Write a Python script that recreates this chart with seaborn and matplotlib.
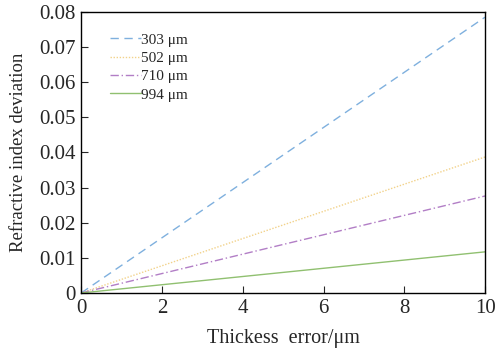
import pandas as pd
import numpy as np
import matplotlib.pyplot as plt
import seaborn as sns

# thickness error (um) and refractive index deviation at the ends of each line
thick_err = [0, 10]
labels = ["303 \u03bcm", "502 \u03bcm", "710 \u03bcm", "994 \u03bcm"]
dev_303 = [0, 0.0785]
dev_502 = [0, 0.0387]
dev_710 = [0, 0.0276]
dev_994 = [0, 0.0117]

colors = ["#7fb0de", "#f2d28a", "#b27ec6", "#90c070"]
styles = [(0, (6, 4)), (0, (1, 1.2)), (0, (6, 2, 1, 2)), "-"]

sns.set_style("ticks")
plt.rcParams['font.family'] = ['Liberation Serif', 'DejaVu Serif']

fig = plt.figure(figsize=(4.98, 3.5), dpi=100)
ax = fig.add_axes([0.163, 0.163, 0.811, 0.803])

for lab, vals, c, ls in zip(labels, [dev_303, dev_502, dev_710, dev_994], colors, styles):
    df = pd.DataFrame({"x": thick_err, "y": vals})
    sns.lineplot(data=df, x="x", y="y", ax=ax, color=c, linewidth=1.0,
                 linestyle=ls, label=lab)

ax.set_xlim(0, 10)
ax.set_ylim(0, 0.08)
ax.set_xticks([0, 2, 4, 6, 8, 10])
ax.set_yticks(np.arange(0, 0.081, 0.01))
ax.set_yticklabels(["0", "0.01", "0.02", "0.03", "0.04", "0.05", "0.06", "0.07", "0.08"])
ax.tick_params(direction="in", labelsize=15, length=5, width=0.8, pad=4,
               top=False, right=False)
for s in ax.spines.values():
    s.set_linewidth(1.0)
    s.set_color("black")

ax.set_xlabel("Thickess  error/\u03bcm", fontsize=14.5, labelpad=8)
ax.set_ylabel("Refractive index deviation", fontsize=13.5, labelpad=9)

ax.legend(loc="upper left", bbox_to_anchor=(0.072, 0.925), frameon=False, fontsize=11,
          handlelength=2.0, handletextpad=0.0, labelspacing=0.3, borderpad=0,
          borderaxespad=0)

fig.savefig("out.png", dpi=100)
